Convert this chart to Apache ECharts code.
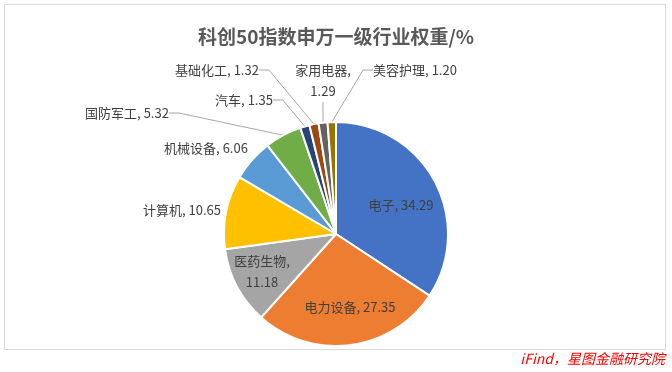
<!DOCTYPE html>
<html>
<head>
<meta charset="utf-8">
<script src="https://cdn.jsdelivr.net/npm/echarts@6/dist/echarts.min.js"></script>
<style>
  html, body { margin: 0; padding: 0; background: #fff; }
  #main { width: 672px; height: 372px; }
</style>
</head>
<body>
<div id="main"></div>
<script>
// 科创50 申万一级行业权重 (%)
const industries = ['电子', '电力设备', '医药生物', '计算机', '机械设备', '国防军工', '汽车', '基础化工', '家用电器', '美容护理'];
const weights = [34.29, 27.35, 11.18, 10.65, 6.06, 5.32, 1.35, 1.32, 1.29, 1.20];
const colors = ['#4472C4', '#ED7D31', '#A5A5A5', '#FFC000', '#5B9BD5', '#70AD47', '#264478', '#9E480E', '#636363', '#997300'];

const insideNames = ['电子', '电力设备', '医药生物'];
const wrapNames = ['医药生物', '家用电器'];
const noLineNames = ['电子', '电力设备', '医药生物', '计算机', '机械设备'];
// where each label sits (centre of text box)
const labelSpots = {
  '电子': [401, 205], '电力设备': [350, 307], '医药生物': [262, 272],
  '计算机': [182, 210], '机械设备': [206, 148], '国防军工': [127, 113],
  '汽车': [244, 100], '基础化工': [217, 70], '家用电器': [323, 81], '美容护理': [415, 70]
};

const chart = echarts.init(document.getElementById('main'));
const font = '"Noto Sans CJK SC", "Microsoft YaHei", sans-serif';

chart.setOption({
  animation: false,
  title: {
    text: '科创50指数申万一级行业权重/%',
    left: 'center',
    top: 22,
    textStyle: { fontFamily: font, fontSize: 19, fontWeight: 'bold', color: '#595959' }
  },
  graphic: [
    {
      type: 'rect',
      shape: { x: 4.5, y: 4.5, width: 661, height: 345 },
      style: { fill: 'none', stroke: '#d9d9d9', lineWidth: 1 }
    },
    {
      type: 'text',
      right: 7,
      top: 352,
      style: {
        text: 'iFind，星图金融研究院',
        fill: '#ff0000',
        font: 'italic 14px ' + font
      }
    }
  ],
  series: [{
    type: 'pie',
    center: [336, 234],
    radius: 112,
    startAngle: 90,
    clockwise: true,
    itemStyle: { borderColor: '#fff', borderWidth: 2 },
    label: {
      fontFamily: font,
      fontSize: 13,
      color: '#404040',
      lineHeight: 21,
      formatter: (p) => p.name + ',' + (wrapNames.includes(p.name) ? '\n' : ' ') + p.value.toFixed(2)
    },
    labelLine: { lineStyle: { color: '#a6a6a6', width: 1 }, length: 10, length2: 10 },
    labelLayout: (p) => {
      const name = industries[p.dataIndex];
      const s = labelSpots[name];
      return { x: s[0], y: s[1], align: 'center', verticalAlign: 'middle' };
    },
    data: industries.map((name, i) => ({
      name: name,
      value: weights[i],
      itemStyle: { color: colors[i] },
      label: { position: insideNames.includes(name) ? 'inside' : 'outside' },
      labelLine: { show: !noLineNames.includes(name) }
    }))
  }]
});
</script>
</body>
</html>
